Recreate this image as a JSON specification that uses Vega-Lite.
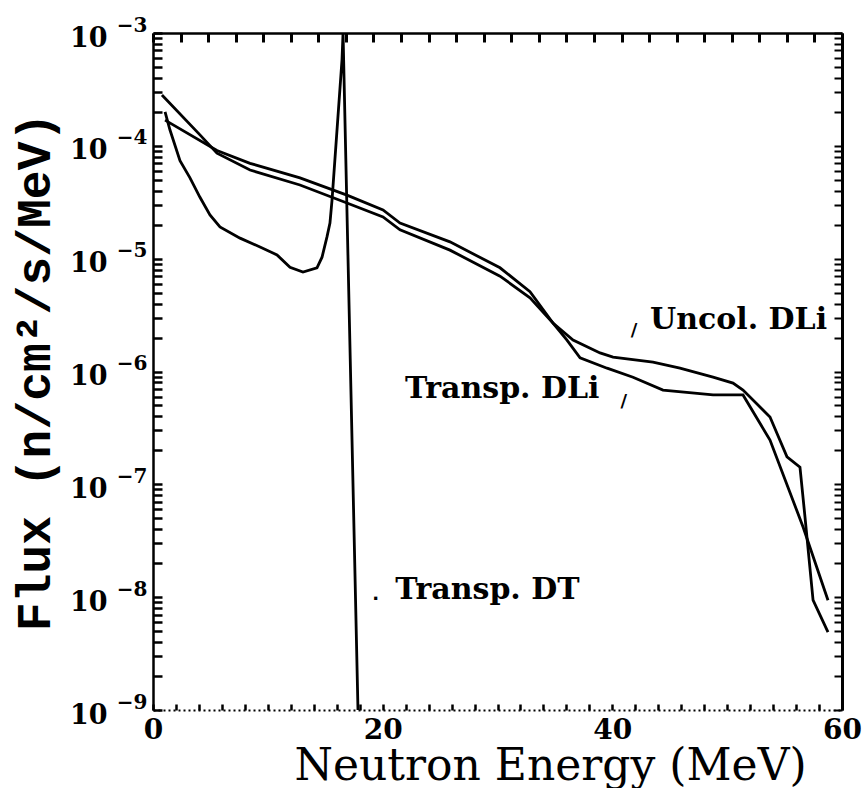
{
  "$schema": "https://vega.github.io/schema/vega-lite/v6.json",
  "width": 689,
  "height": 677,
  "autosize": {"type": "none"},
  "padding": {"left": 153, "top": 33, "right": 22, "bottom": 78},
  "background": "white",
  "config": {"view": {"stroke": null}},
  "datasets": {
    "curves": [
      {"series": "Transp. DT", "E": 1.05, "flux": 2.0e-4},
      {"series": "Transp. DT", "E": 1.48, "flux": 1.38e-4},
      {"series": "Transp. DT", "E": 2.35, "flux": 7.4e-5},
      {"series": "Transp. DT", "E": 3.22, "flux": 5.2e-5},
      {"series": "Transp. DT", "E": 4.09, "flux": 3.5e-5},
      {"series": "Transp. DT", "E": 4.96, "flux": 2.44e-5},
      {"series": "Transp. DT", "E": 5.83, "flux": 1.91e-5},
      {"series": "Transp. DT", "E": 7.58, "flux": 1.52e-5},
      {"series": "Transp. DT", "E": 9.32, "flux": 1.27e-5},
      {"series": "Transp. DT", "E": 10.8, "flux": 1.08e-5},
      {"series": "Transp. DT", "E": 11.93, "flux": 8.4e-6},
      {"series": "Transp. DT", "E": 13.06, "flux": 7.6e-6},
      {"series": "Transp. DT", "E": 14.28, "flux": 8.3e-6},
      {"series": "Transp. DT", "E": 14.72, "flux": 1.03e-5},
      {"series": "Transp. DT", "E": 15.15, "flux": 1.56e-5},
      {"series": "Transp. DT", "E": 15.41, "flux": 2.07e-5},
      {"series": "Transp. DT", "E": 15.59, "flux": 3.31e-5},
      {"series": "Transp. DT", "E": 16.46, "flux": 5.8e-4},
      {"series": "Transp. DT", "E": 16.55, "flux": 1.0e-3},
      {"series": "Transp. DT", "E": 17.85, "flux": 1.0e-9},
      {"series": "Uncol. DLi", "E": 1.05, "flux": 1.69e-4},
      {"series": "Uncol. DLi", "E": 5.57, "flux": 9.1e-5},
      {"series": "Uncol. DLi", "E": 8.45, "flux": 7.0e-5},
      {"series": "Uncol. DLi", "E": 12.8, "flux": 5.2e-5},
      {"series": "Uncol. DLi", "E": 16.89, "flux": 3.66e-5},
      {"series": "Uncol. DLi", "E": 20.03, "flux": 2.7e-5},
      {"series": "Uncol. DLi", "E": 21.51, "flux": 2.07e-5},
      {"series": "Uncol. DLi", "E": 25.86, "flux": 1.41e-5},
      {"series": "Uncol. DLi", "E": 30.22, "flux": 8.3e-6},
      {"series": "Uncol. DLi", "E": 32.83, "flux": 5.1e-6},
      {"series": "Uncol. DLi", "E": 34.83, "flux": 2.69e-6},
      {"series": "Uncol. DLi", "E": 36.58, "flux": 1.9e-6},
      {"series": "Uncol. DLi", "E": 38.93, "flux": 1.46e-6},
      {"series": "Uncol. DLi", "E": 40.06, "flux": 1.34e-6},
      {"series": "Uncol. DLi", "E": 43.54, "flux": 1.21e-6},
      {"series": "Uncol. DLi", "E": 45.89, "flux": 1.07e-6},
      {"series": "Uncol. DLi", "E": 48.77, "flux": 8.9e-7},
      {"series": "Uncol. DLi", "E": 50.51, "flux": 7.9e-7},
      {"series": "Uncol. DLi", "E": 51.38, "flux": 6.85e-7},
      {"series": "Uncol. DLi", "E": 53.73, "flux": 3.95e-7},
      {"series": "Uncol. DLi", "E": 55.21, "flux": 1.75e-7},
      {"series": "Uncol. DLi", "E": 56.34, "flux": 1.42e-7},
      {"series": "Uncol. DLi", "E": 56.78, "flux": 5.1e-8},
      {"series": "Uncol. DLi", "E": 57.48, "flux": 9.4e-9},
      {"series": "Uncol. DLi", "E": 58.78, "flux": 4.9e-9},
      {"series": "Transp. DLi", "E": 0.78, "flux": 2.82e-4},
      {"series": "Transp. DLi", "E": 4.09, "flux": 1.25e-4},
      {"series": "Transp. DLi", "E": 5.57, "flux": 8.6e-5},
      {"series": "Transp. DLi", "E": 8.45, "flux": 6.1e-5},
      {"series": "Transp. DLi", "E": 12.8, "flux": 4.5e-5},
      {"series": "Transp. DLi", "E": 16.89, "flux": 3.11e-5},
      {"series": "Transp. DLi", "E": 20.03, "flux": 2.34e-5},
      {"series": "Transp. DLi", "E": 21.51, "flux": 1.8e-5},
      {"series": "Transp. DLi", "E": 25.86, "flux": 1.19e-5},
      {"series": "Transp. DLi", "E": 30.22, "flux": 7.0e-6},
      {"series": "Transp. DLi", "E": 32.83, "flux": 4.5e-6},
      {"series": "Transp. DLi", "E": 34.83, "flux": 2.69e-6},
      {"series": "Transp. DLi", "E": 36.05, "flux": 1.9e-6},
      {"series": "Transp. DLi", "E": 37.19, "flux": 1.32e-6},
      {"series": "Transp. DLi", "E": 39.54, "flux": 1.07e-6},
      {"series": "Transp. DLi", "E": 41.8, "flux": 8.9e-7},
      {"series": "Transp. DLi", "E": 44.41, "flux": 6.85e-7},
      {"series": "Transp. DLi", "E": 48.77, "flux": 6.2e-7},
      {"series": "Transp. DLi", "E": 51.38, "flux": 6.2e-7},
      {"series": "Transp. DLi", "E": 53.73, "flux": 2.47e-7},
      {"series": "Transp. DLi", "E": 56.61, "flux": 4.19e-8},
      {"series": "Transp. DLi", "E": 58.78, "flux": 9.4e-9}
    ],
    "frame": [
      {"E": 0, "flux": 1e-9},
      {"E": 60, "flux": 1e-3}
    ],
    "labels": [
      {"text": "Uncol. DLi", "E": 43.28, "flux": 2.86e-6},
      {"text": "Transp. DLi", "E": 21.95, "flux": 7.0e-7},
      {"text": "Transp. DT", "E": 21.1, "flux": 1.16e-8}
    ],
    "pointers": [
      {"glyph": "/", "E": 41.9, "flux": 2.3e-6},
      {"glyph": "/", "E": 41.0, "flux": 5.4e-7},
      {"glyph": ".", "E": 19.4, "flux": 1.05e-8}
    ]
  },
  "layer": [
    {
      "data": {"name": "curves"},
      "mark": {"type": "line", "color": "black", "strokeWidth": 2.8},
      "encoding": {
        "detail": {"field": "series", "type": "nominal"},
        "x": {
          "field": "E", "type": "quantitative",
          "scale": {"domain": [0, 60], "nice": false, "zero": false},
          "axis": {
            "orient": "bottom", "grid": false,
            "values": [0, 20, 40, 60],
            "ticks": false,
            "domainColor": "black", "domainWidth": 2, "domainDash": [2, 3],
            "labelFont": "DejaVu Serif", "labelFontSize": 28, "labelFontWeight": "bold", "labelColor": "black",
            "labelPadding": 6, "labelFlush": false,
            "title": "Neutron Energy (MeV)",
            "titleFont": "DejaVu Serif", "titleFontSize": 44, "titleFontWeight": "normal", "titleColor": "black",
            "titlePadding": 0, "titleX": 397
          }
        },
        "y": {
          "field": "flux", "type": "quantitative",
          "scale": {"type": "log", "domain": [1e-9, 1e-3], "nice": false},
          "axis": {
            "orient": "left", "grid": false,
            "values": [1e-9, 1e-8, 1e-7, 1e-6, 1e-5, 1e-4, 1e-3],
            "labelExpr": "'10'",
            "ticks": false,
            "domainColor": "black", "domainWidth": 2.5,
            "labelFont": "DejaVu Serif", "labelFontSize": 27, "labelFontWeight": "bold", "labelColor": "black",
            "labelPadding": 46, "labelOffset": 5,
            "title": "Flux (n/cm²/s/MeV)",
            "titleFont": "Liberation Mono", "titleFontSize": 48, "titleFontWeight": "bold", "titleColor": "black",
            "titlePadding": 10
          }
        }
      }
    },
    {
      "data": {"name": "labels"},
      "mark": {"type": "text", "align": "left", "baseline": "middle", "font": "DejaVu Serif", "fontSize": 30, "fontWeight": "bold", "color": "black"},
      "encoding": {
        "x": {"field": "E", "type": "quantitative", "scale": {"domain": [0, 60], "nice": false, "zero": false}, "axis": null},
        "y": {"field": "flux", "type": "quantitative", "scale": {"type": "log", "domain": [1e-9, 1e-3], "nice": false}, "axis": null},
        "text": {"field": "text", "type": "nominal"}
      }
    },
    {
      "data": {"name": "pointers"},
      "mark": {"type": "text", "align": "center", "baseline": "middle", "font": "DejaVu Sans", "fontSize": 18, "fontWeight": "bold", "color": "black"},
      "encoding": {
        "x": {"field": "E", "type": "quantitative", "scale": {"domain": [0, 60], "nice": false, "zero": false}, "axis": null},
        "y": {"field": "flux", "type": "quantitative", "scale": {"type": "log", "domain": [1e-9, 1e-3], "nice": false}, "axis": null},
        "text": {"field": "glyph", "type": "nominal"}
      }
    },
    {
      "data": {"name": "frame"},
      "mark": {"type": "point", "opacity": 0},
      "encoding": {
        "x": {
          "field": "E", "type": "quantitative",
          "scale": {"domain": [0, 60], "nice": false, "zero": false},
          "axis": {
            "orient": "top", "offset": -677, "grid": false, "zindex": 1,
            "values": [0,2,4,6,8,10,12,14,16,18,20,22,24,26,28,30,32,34,36,38,40,42,44,46,48,50,52,54,56,58,60],
            "labels": false, "title": null, "domain": false,
            "tickSize": 6, "tickWidth": 2.5, "tickColor": "black"
          }
        },
        "y": {
          "field": "flux", "type": "quantitative",
          "scale": {"type": "log", "domain": [1e-9, 1e-3], "nice": false},
          "axis": {
            "orient": "left", "grid": false,
            "values": [1e-9, 1e-8, 1e-7, 1e-6, 1e-5, 1e-4, 1e-3],
            "labelExpr": "'−' + (-round(log(datum.value)/LN10))",
            "ticks": false, "domain": false, "title": null,
            "labelFont": "DejaVu Serif", "labelFontSize": 20, "labelFontWeight": "bold", "labelColor": "black",
            "labelPadding": 6, "labelOffset": -8
          }
        }
      }
    },
    {
      "data": {"name": "frame"},
      "mark": {"type": "point", "opacity": 0},
      "encoding": {
        "x": {
          "field": "E", "type": "quantitative",
          "scale": {"domain": [0, 60], "nice": false, "zero": false},
          "axis": {
            "orient": "bottom", "offset": -677, "grid": false, "zindex": 1,
            "values": [0,2.4,4.8,7.2,9.6,12,14.4,16.8,19.2,21.6,24,26.4,28.8,31.2,33.6,36,38.4,40.8,43.2,45.6,48,50.4,52.8,55.2,57.6,60],
            "labels": false, "title": null,
            "tickSize": 9, "tickWidth": 3, "tickColor": "black",
            "domainColor": "black", "domainWidth": 2.5
          }
        },
        "y": {
          "field": "flux", "type": "quantitative",
          "scale": {"type": "log", "domain": [1e-9, 1e-3], "nice": false},
          "axis": {
            "orient": "right", "offset": -689, "grid": false, "zindex": 1,
            "values": [1e-9,2e-9,3e-9,4e-9,5e-9,6e-9,7e-9,8e-9,9e-9,1e-8,2e-8,3e-8,4e-8,5e-8,6e-8,7e-8,8e-8,9e-8,1e-7,2e-7,3e-7,4e-7,5e-7,6e-7,7e-7,8e-7,9e-7,1e-6,2e-6,3e-6,4e-6,5e-6,6e-6,7e-6,8e-6,9e-6,1e-5,2e-5,3e-5,4e-5,5e-5,6e-5,7e-5,8e-5,9e-5,1e-4,2e-4,3e-4,4e-4,5e-4,6e-4,7e-4,8e-4,9e-4,1e-3],
            "labels": false, "title": null, "domain": false,
            "tickSize": 9, "tickWidth": 2.5, "tickColor": "black"
          }
        }
      }
    },
    {
      "data": {"name": "frame"},
      "mark": {"type": "point", "opacity": 0},
      "encoding": {
        "x": {"field": "E", "type": "quantitative", "scale": {"domain": [0, 60], "nice": false, "zero": false}, "axis": null},
        "y": {
          "field": "flux", "type": "quantitative",
          "scale": {"type": "log", "domain": [1e-9, 1e-3], "nice": false},
          "axis": {
            "orient": "left", "offset": -689, "grid": false, "zindex": 1,
            "values": [1e-9,2e-9,3e-9,4e-9,5e-9,6e-9,7e-9,8e-9,9e-9,1e-8,2e-8,3e-8,4e-8,5e-8,6e-8,7e-8,8e-8,9e-8,1e-7,2e-7,3e-7,4e-7,5e-7,6e-7,7e-7,8e-7,9e-7,1e-6,2e-6,3e-6,4e-6,5e-6,6e-6,7e-6,8e-6,9e-6,1e-5,2e-5,3e-5,4e-5,5e-5,6e-5,7e-5,8e-5,9e-5,1e-4,2e-4,3e-4,4e-4,5e-4,6e-4,7e-4,8e-4,9e-4,1e-3],
            "labels": false, "title": null,
            "tickSize": 8, "tickWidth": 2, "tickColor": "black",
            "domainColor": "black", "domainWidth": 3
          }
        }
      }
    }
  ],
  "resolve": {"axis": {"x": "independent", "y": "independent"}}
}
